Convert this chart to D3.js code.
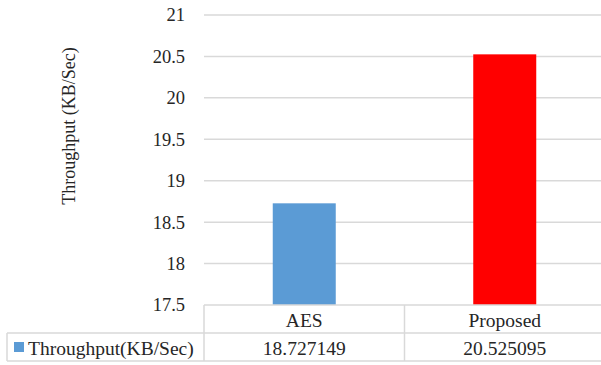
<!DOCTYPE html>
<html>
<head>
<meta charset="utf-8">
<script src="https://cdn.jsdelivr.net/npm/d3@7"></script>
<style>
  body { margin: 0; background: #fff; }
</style>
</head>
<body>
<div id="chart"></div>
<script>
var categories = ["AES", "Proposed"];
var values = [18.727149, 20.525095];
var valueLabels = ["18.727149", "20.525095"];
var barColors = ["#5b9bd5", "#ff0000"];
var yTicks = [17.5, 18, 18.5, 19, 19.5, 20, 20.5, 21];
var seriesName = "Throughput(KB/Sec)";
var yTitle = "Throughput (KB/Sec)";

var width = 601;
var height = 365;
var plotLeft = 204, plotRight = 605, plotTop = 15, plotBottom = 305;
var rowH = 28;
var serif = "'Liberation Serif', 'Times New Roman', 'DejaVu Serif', serif";

var svg = d3.select("#chart")
    .append("svg")
    .attr("width", width)
    .attr("height", height)
    .style("font-family", serif);

var x = d3.scaleBand().domain(categories).range([plotLeft, plotRight]).paddingInner(0).paddingOuter(0);
var y = d3.scaleLinear().domain([17.5, 21]).range([plotBottom, plotTop]);

// gridlines
svg.selectAll("line.grid")
    .data(yTicks.slice(1))
    .enter()
    .append("line")
    .attr("class", "grid")
    .attr("x1", plotLeft)
    .attr("x2", width)
    .attr("y1", function (d) { return y(d); })
    .attr("y2", function (d) { return y(d); })
    .style("stroke", "#d9d9d9")
    .style("stroke-width", 1.5);

// tick labels
svg.selectAll("text.tick")
    .data(yTicks)
    .enter()
    .append("text")
    .attr("class", "tick")
    .attr("x", 185)
    .attr("y", function (d) { return y(d); })
    .attr("dy", "0.35em")
    .attr("text-anchor", "end")
    .style("font-family", serif)
    .style("font-size", "18.5px")
    .style("fill", "#262626")
    .text(function (d) { return d; });

// bars
var barW = 63;
svg.selectAll("rect.bar")
    .data(values)
    .enter()
    .append("rect")
    .attr("class", "bar")
    .attr("x", function (d, i) { return x(categories[i]) + x.bandwidth() / 2 - barW / 2; })
    .attr("y", function (d) { return y(d); })
    .attr("width", barW)
    .attr("height", function (d) { return y(17.5) - y(d); })
    .style("fill", function (d, i) { return barColors[i]; });

// y axis title
svg.append("text")
    .attr("transform", "translate(75,126) rotate(-90)")
    .attr("text-anchor", "middle")
    .style("font-family", serif)
    .style("font-size", "18px")
    .style("fill", "#262626")
    .text(yTitle);

// data table
var tLeft = 7;
var tableLines = svg.append("g").style("stroke", "#d9d9d9").style("stroke-width", 1.5);
tableLines.append("line").attr("x1", plotLeft).attr("x2", width).attr("y1", plotBottom).attr("y2", plotBottom);
tableLines.append("line").attr("x1", tLeft).attr("x2", width).attr("y1", plotBottom + rowH).attr("y2", plotBottom + rowH);
tableLines.append("line").attr("x1", tLeft).attr("x2", width).attr("y1", plotBottom + 2 * rowH).attr("y2", plotBottom + 2 * rowH);
tableLines.append("line").attr("x1", tLeft).attr("x2", tLeft).attr("y1", plotBottom + rowH).attr("y2", plotBottom + 2 * rowH);
tableLines.selectAll("line.col")
    .data(categories)
    .enter()
    .append("line")
    .attr("class", "col")
    .attr("x1", function (d) { return x(d); })
    .attr("x2", function (d) { return x(d); })
    .attr("y1", plotBottom)
    .attr("y2", plotBottom + 2 * rowH);

svg.selectAll("text.cat")
    .data(categories)
    .enter()
    .append("text")
    .attr("class", "cat")
    .attr("x", function (d) { return x(d) + x.bandwidth() / 2; })
    .attr("y", plotBottom + rowH / 2 + 1)
    .attr("dy", "0.35em")
    .attr("text-anchor", "middle")
    .style("font-family", serif)
    .style("font-size", "19.5px")
    .style("fill", "#262626")
    .text(function (d) { return d; });

svg.selectAll("text.val")
    .data(valueLabels)
    .enter()
    .append("text")
    .attr("class", "val")
    .attr("x", function (d, i) { return x(categories[i]) + x.bandwidth() / 2; })
    .attr("y", plotBottom + rowH * 1.5 + 1)
    .attr("dy", "0.35em")
    .attr("text-anchor", "middle")
    .style("font-family", serif)
    .style("font-size", "19.5px")
    .style("fill", "#262626")
    .text(function (d) { return d; });

// legend key
svg.append("rect")
    .attr("x", 14)
    .attr("y", 342)
    .attr("width", 10)
    .attr("height", 10)
    .style("fill", barColors[0]);

svg.append("text")
    .attr("x", 28)
    .attr("y", plotBottom + rowH * 1.5 + 1)
    .attr("dy", "0.35em")
    .style("font-family", serif)
    .style("font-size", "19.5px")
    .style("fill", "#262626")
    .text(seriesName);
</script>
</body>
</html>
